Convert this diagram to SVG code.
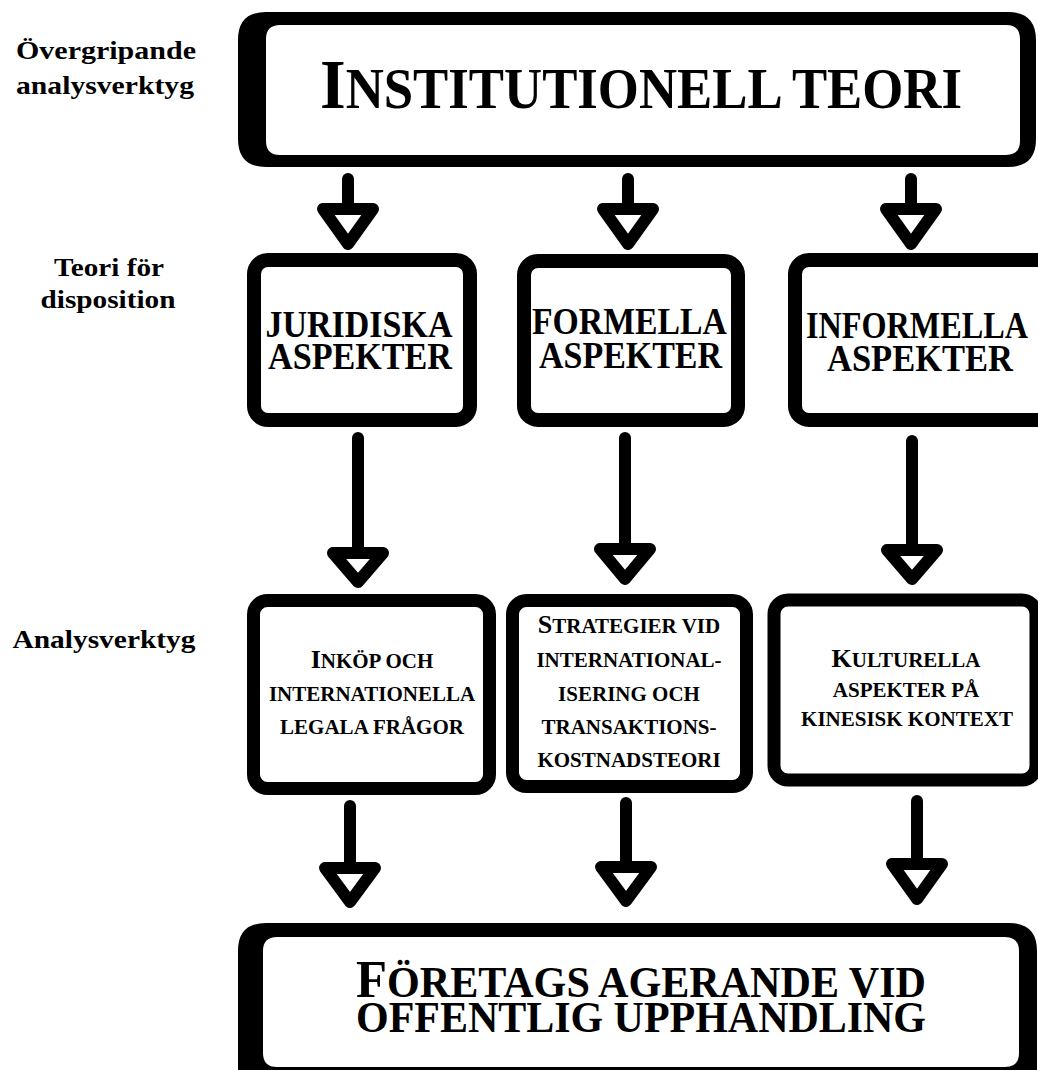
<svg xmlns="http://www.w3.org/2000/svg" width="1038" height="1070" viewBox="0 0 1038 1070">
  <style>
    text { font-family: "Liberation Serif", "Times New Roman", serif; font-weight: bold; fill: #000; }
    .lbl { font-size: 25px; text-anchor: middle; }
    .mid { font-size: 38px; text-anchor: middle; }
    .sm { font-size: 21px; text-anchor: middle; }
    .box { fill: #fff; stroke: #000; stroke-width: 14; }
    .frame { fill: #000; fill-rule: evenodd; }
    .shaft { stroke: #000; stroke-width: 12; stroke-linecap: round; fill: none; }
    .head { fill: #fff; stroke: #000; stroke-width: 12; stroke-linejoin: round; }
  </style>
  <rect width="1038" height="1070" fill="#fff"/>

  <!-- row labels -->
  <g id="labels">
    <text class="lbl" x="106" y="59" textLength="180" lengthAdjust="spacingAndGlyphs">Övergripande</text>
    <text class="lbl" x="105" y="94" textLength="178" lengthAdjust="spacingAndGlyphs">analysverktyg</text>
    <text class="lbl" x="109" y="276" textLength="110" lengthAdjust="spacingAndGlyphs">Teori för</text>
    <text class="lbl" x="108" y="308" textLength="135" lengthAdjust="spacingAndGlyphs">disposition</text>
    <text class="lbl" x="104" y="648" textLength="183" lengthAdjust="spacingAndGlyphs">Analysverktyg</text>
  </g>

  <!-- connectors -->
  <g id="connectors">
    <line class="shaft" x1="348" y1="179" x2="348" y2="209"/>
    <path class="head" d="M323,209 H373 L348,244 Z"/>
    <line class="shaft" x1="628" y1="179" x2="628" y2="209"/>
    <path class="head" d="M603,209 H653 L628,244 Z"/>
    <line class="shaft" x1="911" y1="179" x2="911" y2="209"/>
    <path class="head" d="M886,209 H936 L911,244 Z"/>

    <line class="shaft" x1="358" y1="438" x2="358" y2="553"/>
    <path class="head" d="M333,553 H383 L358,582 Z"/>
    <line class="shaft" x1="625" y1="438" x2="625" y2="549"/>
    <path class="head" d="M600,549 H650 L625,579 Z"/>
    <line class="shaft" x1="912" y1="441" x2="912" y2="550"/>
    <path class="head" d="M887,550 H937 L912,579 Z"/>

    <line class="shaft" x1="350" y1="806" x2="350" y2="868"/>
    <path class="head" d="M325,868 H375 L350,902 Z"/>
    <line class="shaft" x1="626" y1="803" x2="626" y2="867"/>
    <path class="head" d="M601,867 H651 L626,901 Z"/>
    <line class="shaft" x1="917" y1="801" x2="917" y2="864"/>
    <path class="head" d="M892,864 H942 L917,899 Z"/>
  </g>

  <!-- top: overarching theory -->
  <g id="institutionell-teori">
    <path class="frame" d="M266,12 H1008 Q1036,12 1036,40 V139 Q1036,167 1008,167 H266 Q238,167 238,139 V40 Q238,12 266,12 Z
                           M280,25 H1006 Q1020,25 1020,39 V141 Q1020,155 1006,155 H280 Q266,155 266,141 V39 Q266,25 280,25 Z"/>
    <text x="641" y="108" font-size="56" text-anchor="middle" textLength="642" lengthAdjust="spacingAndGlyphs"><tspan font-size="70">I</tspan>NSTITUTIONELL TEORI</text>
  </g>

  <!-- second row -->
  <g id="juridiska">
    <rect class="box" x="254" y="260" width="216" height="160" rx="14"/>
    <text class="mid" x="359" y="337" textLength="187" lengthAdjust="spacingAndGlyphs">JURIDISKA</text>
    <text class="mid" x="360" y="369" textLength="184" lengthAdjust="spacingAndGlyphs">ASPEKTER</text>
  </g>
  <g id="formella">
    <rect class="box" x="524" y="261" width="214" height="159" rx="14"/>
    <text class="mid" x="629.5" y="334" textLength="195" lengthAdjust="spacingAndGlyphs">FORMELLA</text>
    <text class="mid" x="630.5" y="368" textLength="183" lengthAdjust="spacingAndGlyphs">ASPEKTER</text>
  </g>
  <g id="informella">
    <rect class="box" x="795" y="260" width="260" height="160" rx="14"/>
    <text class="mid" x="917" y="338" textLength="222" lengthAdjust="spacingAndGlyphs">INFORMELLA</text>
    <text class="mid" x="920" y="371" textLength="186" lengthAdjust="spacingAndGlyphs">ASPEKTER</text>
  </g>

  <!-- third row -->
  <g id="inkop">
    <rect class="box" x="253.5" y="600.5" width="236" height="188" rx="14" style="stroke-width:13"/>
    <text class="sm" x="372" y="668"><tspan font-size="26">I</tspan>NKÖP OCH</text>
    <text class="sm" x="372" y="701">INTERNATIONELLA</text>
    <text class="sm" x="372" y="734">LEGALA FRÅGOR</text>
  </g>
  <g id="strategier">
    <rect class="box" x="512.5" y="600.5" width="234" height="186" rx="14" style="stroke-width:13"/>
    <text class="sm" x="629" y="633"><tspan font-size="26">S</tspan>TRATEGIER VID</text>
    <text class="sm" x="629" y="667">INTERNATIONAL-</text>
    <text class="sm" x="629" y="701">ISERING OCH</text>
    <text class="sm" x="629" y="734">TRANSAKTIONS-</text>
    <text class="sm" x="629" y="767">KOSTNADSTEORI</text>
  </g>
  <g id="kulturella">
    <rect class="box" x="774" y="600" width="262" height="180" rx="14" style="stroke-width:13"/>
    <text class="sm" x="906" y="667"><tspan font-size="26">K</tspan>ULTURELLA</text>
    <text class="sm" x="906" y="697">ASPEKTER PÅ</text>
    <text class="sm" x="907" y="726">KINESISK KONTEXT</text>
  </g>

  <!-- bottom: outcome -->
  <g id="foretags-agerande">
    <path class="frame" d="M266,923 H1009 Q1037,923 1037,951 V1100 H238 V951 Q238,923 266,923 Z
                           M277,937 H1005 Q1019,937 1019,951 V1053 Q1019,1067 1005,1067 H277 Q263,1067 263,1053 V951 Q263,937 277,937 Z"/>
    <text x="641" y="997" font-size="44" text-anchor="middle" textLength="570" lengthAdjust="spacingAndGlyphs"><tspan font-size="53">F</tspan>ÖRETAGS AGERANDE VID</text>
    <text x="641" y="1032" font-size="44" text-anchor="middle" textLength="570" lengthAdjust="spacingAndGlyphs">OFFENTLIG UPPHANDLING</text>
  </g>
</svg>
